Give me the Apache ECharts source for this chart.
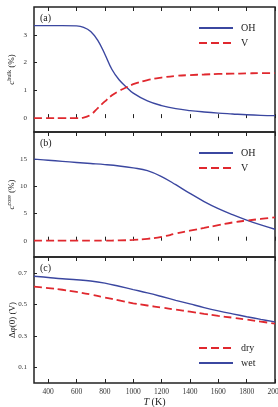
<!DOCTYPE html>
<html>
<head>
<meta charset="utf-8">
<script src="https://cdn.jsdelivr.net/npm/echarts@6/dist/echarts.min.js"></script>
<style>
  html, body { margin: 0; padding: 0; background: #fff; }
  #chart { width: 278px; height: 407px; }
</style>
</head>
<body>
<div id="chart"></div>
<script>
// panel (a): bulk concentrations
const tempsA = [300, 400, 500, 600, 650, 700, 750, 800, 850, 900, 950, 1000, 1100, 1200, 1300, 1400, 1500, 1600, 1700, 1800, 1900, 2000]
const bulkOH = [3.33, 3.33, 3.33, 3.32, 3.27, 3.12, 2.8, 2.3, 1.75, 1.38, 1.13, 0.9, 0.62, 0.45, 0.34, 0.27, 0.22, 0.18, 0.15, 0.12, 0.1, 0.09]
const bulkV = [0, 0, 0, 0, 0.02, 0.12, 0.36, 0.6, 0.82, 0.98, 1.1, 1.22, 1.37, 1.46, 1.52, 1.55, 1.57, 1.59, 1.6, 1.61, 1.62, 1.62]

// panels (b) and (c)
const temps = [300, 400, 500, 600, 700, 800, 900, 1000, 1100, 1200, 1300, 1400, 1500, 1600, 1700, 1800, 1900, 2000]
const coreOH = [15.0, 14.8, 14.6, 14.4, 14.2, 14.0, 13.75, 13.4, 12.9, 11.8, 10.3, 8.7, 7.2, 5.9, 4.8, 3.8, 2.9, 2.1]
const coreV = [0, 0, 0, 0, 0, 0.02, 0.05, 0.15, 0.35, 0.7, 1.3, 1.85, 2.35, 2.85, 3.35, 3.7, 4.0, 4.3]
const phiDry = [0.612, 0.603, 0.592, 0.578, 0.562, 0.543, 0.524, 0.506, 0.492, 0.479, 0.466, 0.453, 0.439, 0.426, 0.415, 0.403, 0.39, 0.377]
const phiWet = [0.678, 0.67, 0.662, 0.656, 0.648, 0.634, 0.614, 0.593, 0.572, 0.549, 0.525, 0.502, 0.479, 0.458, 0.439, 0.421, 0.404, 0.388]

const xTicks = [400, 600, 800, 1000, 1200, 1400, 1600, 1800, 2000]
const yTicksA = [0, 1, 2, 3]
const yTicksB = [0, 5, 10, 15]
const yTicksC = [0.1, 0.3, 0.5, 0.7]

const BLUE = '#3b47a0'
const RED = '#e0282e'
const FONT = 'Liberation Serif'

const chart = echarts.init(document.getElementById('chart'))

const pair = (xs, ys) => xs.map((x, i) => [x, ys[i]])

const grids = [
  { left: 34, right: 3, top: 7, height: 125 },
  { left: 34, right: 3, top: 132, height: 125 },
  { left: 34, right: 3, top: 257, height: 126 },
].map((g) => ({
  ...g,
  show: true,
  outerBoundsMode: 'none',
  borderColor: '#222',
  borderWidth: 1.5,
  backgroundColor: 'transparent',
}))

const makeX = (gridIndex, position, showLabel) => ({
  type: 'value',
  gridIndex,
  position,
  min: 300,
  max: 2000,
  axisLine: { show: false },
  splitLine: { show: false },
  axisTick: { show: true, inside: true, length: 4, customValues: xTicks, lineStyle: { color: '#222' } },
  axisLabel: {
    show: showLabel,
    customValues: xTicks,
    formatter: (v) => String(v),
    fontFamily: FONT,
    fontSize: 7.5,
    color: '#333',
    margin: 5,
  },
  name: showLabel ? '{i|T} (K)' : '',
  nameLocation: 'middle',
  nameGap: 13,
  nameTextStyle: {
    fontFamily: FONT,
    fontSize: 10,
    color: '#222',
    rich: { i: { fontFamily: FONT, fontStyle: 'italic', fontSize: 10, color: '#222' } },
  },
})

const makeY = (gridIndex, min, max, ticks, name, rich) => ({
  type: 'value',
  gridIndex,
  min,
  max,
  axisLine: { show: false },
  splitLine: { show: false },
  axisTick: { show: true, inside: true, length: 3, customValues: ticks, lineStyle: { color: '#222' } },
  axisLabel: { customValues: ticks, formatter: (v) => String(v), fontFamily: FONT, fontSize: 7, color: '#333', margin: 7 },
  name,
  nameLocation: 'middle',
  nameGap: 17,
  nameMoveOverlap: false,
  nameTextStyle: { fontFamily: FONT, fontSize: 9, color: '#222', rich },
})

const supRich = {
  i: { fontFamily: FONT, fontStyle: 'italic', fontSize: 9, color: '#222' },
  sup: { fontFamily: FONT, fontSize: 6, color: '#222', verticalAlign: 'top', padding: [0, 0, 5, 0] },
  n: { fontFamily: FONT, fontSize: 9, color: '#222' },
}

const line = (name, xIndex, yIndex, data, dashed) => ({
  name,
  type: 'line',
  xAxisIndex: xIndex,
  yAxisIndex: yIndex,
  data,
  smooth: 0.4,
  showSymbol: false,
  symbol: 'none',
  silent: true,
  color: dashed ? RED : BLUE,
  lineStyle: dashed
    ? { color: RED, width: 1.8, type: [8, 4] }
    : { color: BLUE, width: 1.4 },
})

const legend = (top, data) => ({
  left: 198,
  top,
  padding: 0,
  orient: 'vertical',
  itemWidth: 34,
  itemHeight: 8,
  itemGap: 5,
  data,
  selectedMode: false,
  itemStyle: { opacity: 0 },
  textStyle: { fontFamily: FONT, fontSize: 10, color: '#222', padding: [0, 0, 0, 3] },
})

const panelLabel = (text, top) => ({
  type: 'text',
  left: 40,
  top,
  style: { text, fontFamily: FONT, fontSize: 10, fill: '#222' },
})

chart.setOption({
  animation: false,
  grid: grids,
  xAxis: [
    makeX(0, 'bottom', false), makeX(0, 'top', false),
    makeX(1, 'bottom', false), makeX(1, 'top', false),
    makeX(2, 'bottom', true), makeX(2, 'top', false),
  ],
  yAxis: [
    makeY(0, -0.5, 4, yTicksA, '{i|c}{sup|bulk}{n| (%)}', supRich),
    makeY(1, -3, 20, yTicksB, '{i|c}{sup|core}{n| (%)}', supRich),
    makeY(2, 0, 0.8, yTicksC, 'Δφ(0) (V)', supRich),
  ],
  legend: [
    legend(23, ['OH', 'V']),
    legend(148, ['OH', 'V']),
    legend(343, ['dry', 'wet']),
  ],
  graphic: [
    panelLabel('(a)', 13),
    panelLabel('(b)', 138),
    panelLabel('(c)', 263),
  ],
  series: [
    line('OH', 0, 0, pair(tempsA, bulkOH), false),
    line('V', 0, 0, pair(tempsA, bulkV), true),
    line('OH', 2, 1, pair(temps, coreOH), false),
    line('V', 2, 1, pair(temps, coreV), true),
    line('dry', 4, 2, pair(temps, phiDry), true),
    line('wet', 4, 2, pair(temps, phiWet), false),
  ],
})
</script>
</body>
</html>
